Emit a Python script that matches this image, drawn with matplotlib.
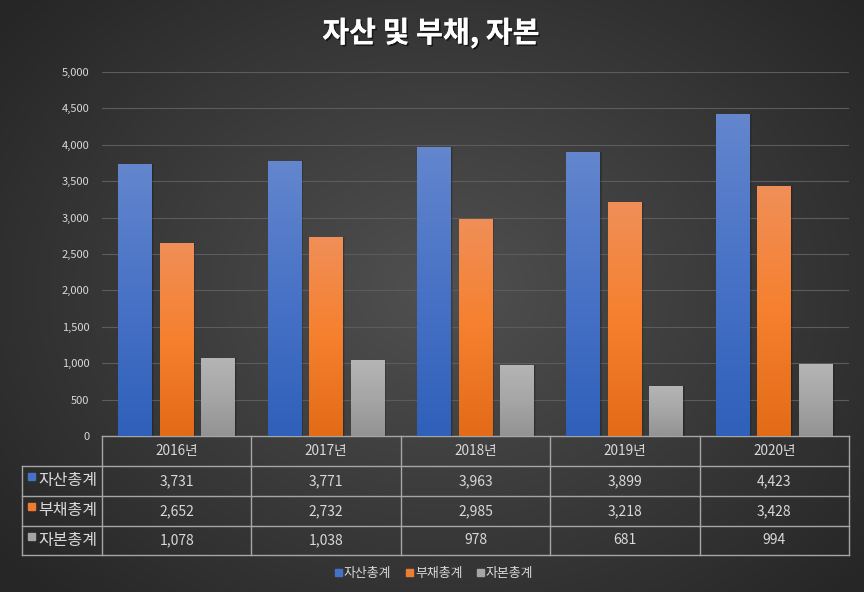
import numpy as np
import matplotlib
matplotlib.use("Agg")
import matplotlib.pyplot as plt
import matplotlib.patheffects as pe
from matplotlib.colors import LinearSegmentedColormap
from matplotlib.patches import Rectangle

plt.rcParams['font.family'] = ['Noto Sans CJK KR', 'DejaVu Sans']

years = ["2016년", "2017년", "2018년", "2019년", "2020년"]
series = ["자산총계", "부채총계", "자본총계"]
assets = [3731, 3771, 3963, 3899, 4423]
liabilities = [2652, 2732, 2985, 3218, 3428]
equity = [1078, 1038, 978, 681, 994]
values = [assets, liabilities, equity]

# top -> mid -> bottom gradient colours, plus flat colour for legend markers
GRAD = [["#6386cd", "#4872c6", "#2f60ba"],
        ["#f08f58", "#f6802e", "#e36b18"],
        ["#b5b5b5", "#a6a6a6", "#939393"]]
FLAT = ["#4472c4", "#ed7d31", "#a5a5a5"]
TXT = "#d9d9d9"
LINE = "#a6a6a6"

W, H = 864, 592
fig = plt.figure(figsize=(W / 100, H / 100), dpi=100)

# background: dark radial gradient
bg = fig.add_axes([0, 0, 1, 1])
bg.set_xlim(0, W); bg.set_ylim(H, 0); bg.axis("off")
yy, xx = np.mgrid[0:H, 0:W]
r = np.clip(np.sqrt(((xx - 440) / 560) ** 2 + ((yy - 290) / 430) ** 2), 0, 1)
shade = 0.315 - 0.165 * r
bg.imshow(np.dstack([shade] * 3), extent=[0, W, H, 0], aspect="auto", zorder=0)

# plot area in pixels
L, R, T, B = 102, 849, 72, 436
ax = fig.add_axes([L / W, 1 - B / H, (R - L) / W, (B - T) / H])
ax.patch.set_alpha(0)
ax.set_yticks(np.arange(0, 5001, 500))
ax.set_yticklabels([f"{v:,}" for v in range(0, 5001, 500)], color=TXT, fontsize=8)
ax.tick_params(axis="y", length=0, pad=9)
ax.set_xticks([])
for s in ax.spines.values():
    s.set_visible(False)
ax.grid(axis="y", color="#5c5c5c", lw=0.8)
ax.set_axisbelow(True)

x = np.arange(len(years))
bw, step = 0.227, 0.278
grad = np.linspace(0, 1, 256).reshape(-1, 1)
for i, (vals, cols) in enumerate(zip(values, GRAD)):
    cmap = LinearSegmentedColormap.from_list(f"g{i}", cols[::-1])
    xs = x + (i - 1) * step
    # soft shadow, a few faint layers
    for k, off in enumerate([0.004, 0.008, 0.012]):
        ax.bar(xs + off, vals, width=bw, color="black", alpha=0.09, zorder=2)
    bars = ax.bar(xs, vals, width=bw, color=FLAT[i], zorder=3)
    for b in bars:
        x0, w, h = b.get_x(), b.get_width(), b.get_height()
        im = ax.imshow(grad, extent=[x0, x0 + w, 0, h], aspect="auto", cmap=cmap,
                       origin="lower", zorder=4)
        im.set_clip_path(b)
ax.set_xlim(-0.5, len(years) - 0.5)
ax.set_ylim(0, 5000)

# data table under the plot
xe = np.linspace(L, R, len(years) + 1)
rows = [B, 466, 496, 526, 555]
lab_left = 22
bg.plot([L, R], [rows[0], rows[0]], color=LINE, lw=1)
for yv in rows[1:]:
    bg.plot([lab_left, R], [yv, yv], color=LINE, lw=1)
for xv in xe:
    bg.plot([xv, xv], [rows[0], rows[-1]], color=LINE, lw=1)
bg.plot([lab_left, lab_left], [rows[1], rows[-1]], color=LINE, lw=1)

cx = (xe[:-1] + xe[1:]) / 2
for c, yr in zip(cx, years):
    bg.text(c, (rows[0] + rows[1]) / 2, yr, color=TXT, fontsize=9.8, ha="center", va="center")
for j, (name, vals) in enumerate(zip(series, values)):
    yc = (rows[j + 1] + rows[j + 2]) / 2
    bg.add_patch(Rectangle((28, yc - 8), 7, 7, color=FLAT[j]))
    bg.text(38, yc, name, color=TXT, fontsize=11.5, ha="left", va="center")
    for c, v in zip(cx, vals):
        bg.text(c, yc, f"{v:,}", color=TXT, fontsize=10, ha="center", va="center")

# legend
for j, (name, lx) in enumerate(zip(series, [335, 406, 477])):
    bg.add_patch(Rectangle((lx, 569), 7, 7, color=FLAT[j]))
    bg.text(lx + 9, 573, name, color=TXT, fontsize=9.3, ha="left", va="center")

# title
bg.text(431, 33, "자산 및 부채, 자본", color="white", fontsize=21, fontweight="bold",
        ha="center", va="center",
        path_effects=[pe.withSimplePatchShadow(offset=(1.2, -1.2), shadow_rgbFace="black", alpha=0.6),
                      pe.Normal()])

fig.savefig("out.png", dpi=100)
